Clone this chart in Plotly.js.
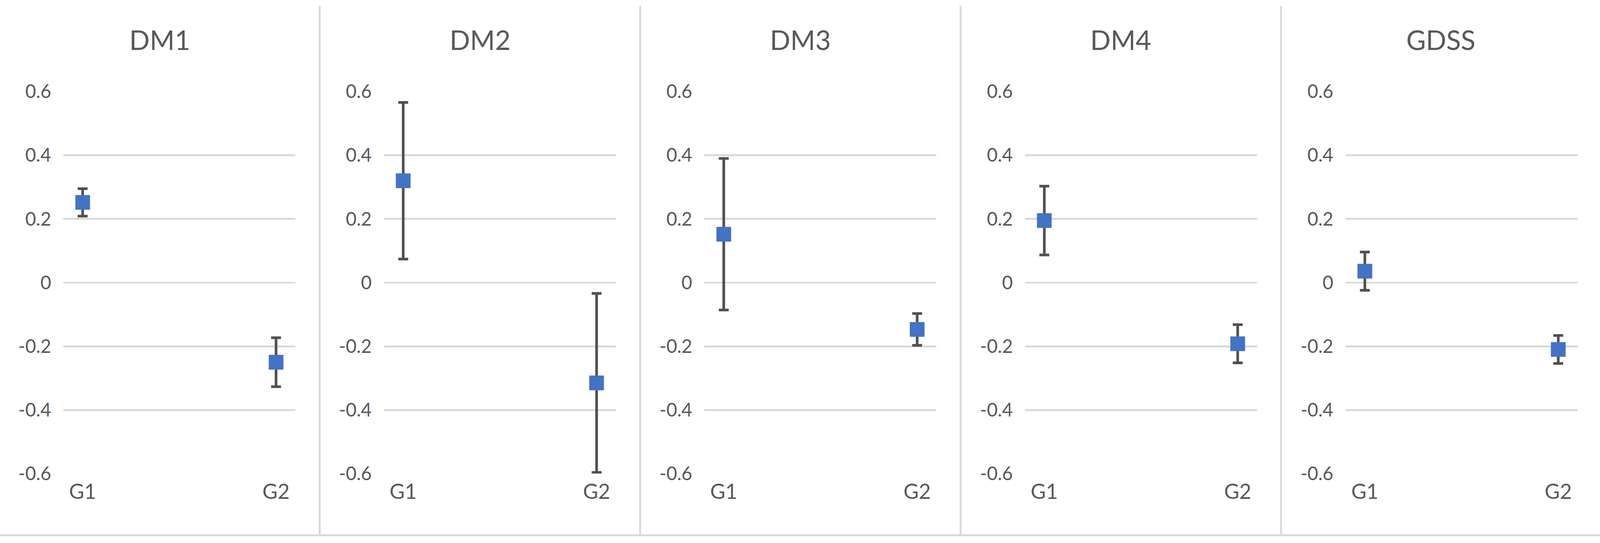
<!DOCTYPE html>
<html>
<head>
<meta charset="utf-8">
<script src="https://cdn.plot.ly/plotly-3.0.1.min.js"></script>
<style>
  html, body { margin: 0; padding: 0; background: #ffffff; overflow: hidden; }
  #chart { position: absolute; left: 0; top: 0; }
</style>
</head>
<body>
<div id="chart"></div>
<script>
// ---- data ----
const panelTitles = ['DM1', 'DM2', 'DM3', 'DM4', 'GDSS'];
const groups = ['G1', 'G2'];

const dm1Mean = [0.252, -0.250];
const dm1Err  = [0.043, 0.077];
const dm2Mean = [0.320, -0.315];
const dm2Err  = [0.246, 0.281];
const dm3Mean = [0.152, -0.147];
const dm3Err  = [0.238, 0.050];
const dm4Mean = [0.195, -0.192];
const dm4Err  = [0.108, 0.060];
const gdssMean = [0.036, -0.210];
const gdssErr  = [0.060, 0.044];

const yTickVals = [-0.6, -0.4, -0.2, 0, 0.2, 0.4, 0.6];
const yTickText = ['-0.6', '-0.4', '-0.2', '0', '0.2', '0.4', '0.6'];

// ---- styling / layout (designed for 4364 x 1391, scaled to the viewport) ----
const REF_W = 4364, REF_H = 1391;
const W = document.documentElement.clientWidth || window.innerWidth || REF_W;
const H = document.documentElement.clientHeight || window.innerHeight || REF_H;
const sx = W / REF_W, sy = H / REF_H;
const s = Math.sqrt(sx * sy);
const chartDiv = document.getElementById('chart');
chartDiv.style.width = W + 'px';
chartDiv.style.height = H + 'px';

const textColor = '#595959';
const gridColor = '#D9D9D9';
const markerColor = '#4472C4';
const errColor = '#505050';
const fontFam = 'Lato, "Open Sans", sans-serif';

const means = [dm1Mean, dm2Mean, dm3Mean, dm4Mean, gdssMean];
const errs = [dm1Err, dm2Err, dm3Err, dm4Err, gdssErr];

const panelStep = 874.3;
const plotLeft0 = 172.7;
const plotWidth = 633;
const yTopPx = 234.7, yBotPx = 1213.3;

const traces = [];
const layout = {
  width: W, height: H,
  margin: {l: 0, r: 0, t: 0, b: 0, pad: 0},
  paper_bgcolor: '#ffffff',
  plot_bgcolor: 'rgba(0,0,0,0)',
  showlegend: false,
  font: {family: fontFam, color: textColor},
  annotations: [],
  shapes: []
};

const xIdx = [0, 1];

for (let i = 0; i < 5; i++) {
  const sfx = i === 0 ? '' : String(i + 1);
  traces.push({
    type: 'scatter',
    mode: 'markers',
    x: xIdx,
    y: means[i],
    xaxis: 'x' + sfx,
    yaxis: 'y' + sfx,
    marker: {symbol: 'square', size: 38 * s, color: markerColor, line: {width: 1 * s, color: '#4a7bd0'}},
    error_y: {type: 'data', array: errs[i], visible: true, color: errColor, thickness: 7 * s, width: 13.5 * sx},
    hoverinfo: 'skip'
  });
  const x0 = plotLeft0 + i * panelStep;
  layout['xaxis' + sfx] = {
    domain: [x0 / REF_W, (x0 + plotWidth) / REF_W],
    range: [-0.1, 1.1],
    anchor: 'y' + sfx,
    showgrid: false, zeroline: false, showline: false,
    tickvals: xIdx, ticktext: groups,
    ticks: '', ticklabelstandoff: 10 * sy,
    tickfont: {family: fontFam, size: 55 * s, color: textColor},
    fixedrange: true
  };
  layout['yaxis' + sfx] = {
    domain: [1 - yBotPx / REF_H, 1 - yTopPx / REF_H],
    range: [-0.6, 0.6],
    anchor: 'x' + sfx,
    showgrid: true, gridcolor: gridColor, gridwidth: 5 * s,
    zeroline: false, showline: false,
    tickvals: yTickVals, ticktext: yTickText,
    ticks: 'outside', ticklen: 22 * sx, tickwidth: 1, tickcolor: 'rgba(0,0,0,0)',
    tickfont: {family: fontFam, size: 49 * s, color: textColor},
    fixedrange: true
  };
  // panel title, centred over its panel
  layout.annotations.push({
    text: panelTitles[i],
    xref: 'paper', yref: 'paper',
    x: (i * 873.5 + 436) / REF_W, y: 1 - 102 / REF_H,
    xanchor: 'center', yanchor: 'middle',
    showarrow: false,
    font: {family: fontFam, size: 71 * s, color: textColor}
  });
}

// chart-area borders between panels and along the bottom
const borderXs = [872, 1746, 2620, 3494];
borderXs.forEach(function (bx) {
  layout.shapes.push({
    type: 'line', xref: 'paper', yref: 'paper',
    x0: bx / REF_W, x1: bx / REF_W, y0: 1 - 15 / REF_H, y1: 1 - 1371 / REF_H,
    line: {color: gridColor, width: 5 * s}
  });
});
layout.shapes.push({
  type: 'line', xref: 'paper', yref: 'paper',
  x0: 0, x1: 1, y0: 1 - 1371 / REF_H, y1: 1 - 1371 / REF_H,
  line: {color: gridColor, width: 5 * s}
});

Plotly.newPlot('chart', traces, layout, {staticPlot: true, displayModeBar: false});
</script>
</body>
</html>
